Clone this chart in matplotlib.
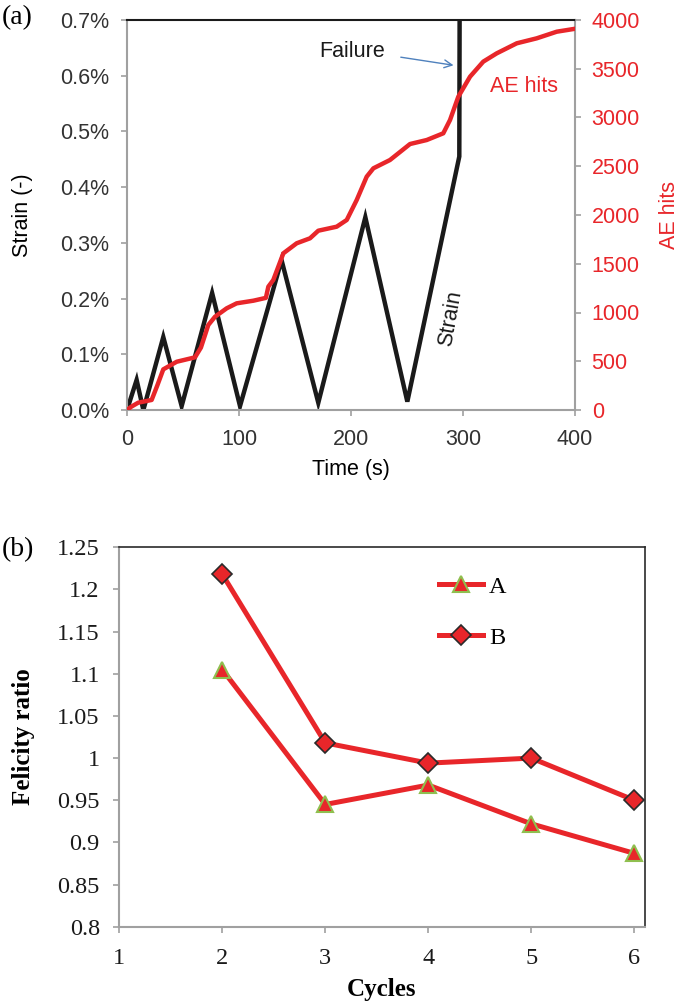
import numpy as np
import matplotlib
matplotlib.use('Agg')
import matplotlib.pyplot as plt

# (a) strain and AE hits vs time
t_strain = [0, 8.6, 14.6, 32.4, 48.8, 76.0, 100.9, 138.0, 170.8, 212.8, 250.3, 296.7, 297.0]
strain = [0, 0.054, 0.0, 0.131, 0.007, 0.210, 0.007, 0.269, 0.013, 0.346, 0.015, 0.455, 0.72]

t_ae = [0, 4, 10, 22, 27, 32.4, 44.4, 60.7, 66, 72.6, 78.6, 89, 97.9, 112.8, 124, 126.2, 130.6,
        139.6, 151.5, 163.4, 170.8, 187.2, 196.2, 205.1, 214, 220, 234.8, 252.7, 267.6, 282.4,
        288.4, 295.8, 306.3, 318.1, 330.1, 348, 365.8, 383.7, 400]
ae_hits = [0, 35, 75, 103, 250, 417, 495, 540, 640, 872, 957, 1043, 1094, 1121, 1150, 1265, 1333,
           1607, 1710, 1761, 1839, 1880, 1949, 2154, 2393, 2479, 2564, 2728, 2769, 2838,
           2974, 3213, 3419, 3573, 3658, 3761, 3812, 3880, 3910]

# (b) felicity ratio vs cycles
cycles = [2, 3, 4, 5, 6]
fr_A = [1.105, 0.945, 0.968, 0.922, 0.887]
fr_B = [1.218, 1.018, 0.994, 1.000, 0.950]

red = '#e8262a'
grey = '#a0a0a0'
dark = '#2a2a2a'
W, H = 685, 1008

fig = plt.figure(figsize=(W / 100, H / 100), dpi=100)

# ---------- panel (a) ----------
sans = 'Liberation Sans'
fs_a = 15.5
ax1 = fig.add_axes([127 / W, 1 - 410 / H, 448 / W, 390 / H])
ax1.plot(t_strain, strain, color='#1a1a1a', lw=3.2, solid_joinstyle='miter', zorder=2)
ax1.set_xlim(0, 400)
ax1.set_ylim(0, 0.7)
ax1.set_xticks(np.arange(0, 401, 100))
ax1.set_yticks(np.arange(0, 0.71, 0.1))
ax1.set_yticklabels(['{:.1f}%'.format(v) for v in np.arange(0, 0.71, 0.1)])
for lab in ax1.get_xticklabels() + ax1.get_yticklabels():
    lab.set_fontfamily(sans)
    lab.set_fontsize(fs_a)
    lab.set_color('#333333')
ax1.tick_params(direction='out', length=4, width=1.2, color=grey)
ax1.tick_params(axis='x', pad=10)
ax1.tick_params(axis='y', pad=9)
for s in ['left', 'bottom', 'right']:
    ax1.spines[s].set_color(grey)
    ax1.spines[s].set_linewidth(1.5)
ax1.spines['top'].set_color('#1a1a1a')
ax1.spines['top'].set_linewidth(1.5)
ax1.set_ylabel('Strain (-)', fontfamily=sans, fontsize=fs_a)
ax1.yaxis.set_label_coords(-0.209, 0.5)
ax1.set_xlabel('Time (s)', fontfamily=sans, fontsize=fs_a)
ax1.xaxis.set_label_coords(0.5, -0.125)

ax1.text(289, 0.165, 'Strain', rotation=80, ha='center', va='center',
         fontfamily=sans, fontsize=fs_a, color='#1a1a1a')
ax1.text(201, 0.643, 'Failure', ha='center', va='center', fontfamily=sans,
         fontsize=fs_a, color='#1a1a1a')
ax1.annotate('', xy=(294, 0.618), xytext=(242, 0.634),
             arrowprops=dict(arrowstyle='->', color='#4f81bd', lw=1.0,
                             mutation_scale=14))

ax2 = ax1.twinx()
ax2.plot(t_ae, ae_hits, color=red, lw=3.2, zorder=3)
ax2.set_ylim(0, 4000)
ax2.set_yticks(np.arange(0, 4001, 500))
for lab in ax2.get_yticklabels():
    lab.set_fontfamily(sans)
    lab.set_fontsize(fs_a)
    lab.set_color(red)
ax2.tick_params(direction='out', length=4, width=1.2, color=grey, pad=8)
for s in ax2.spines.values():
    s.set_visible(False)
ax2.set_ylabel('AE hits', fontfamily=sans, fontsize=fs_a, color=red)
ax2.yaxis.set_label_coords(1.187, 0.5)
ax2.text(354.5, 3313, 'AE hits', ha='center', va='center', fontfamily=sans,
         fontsize=fs_a, color=red)

fig.text(17 / W, 1 - 18 / H, '(a)', ha='center', va='center',
         fontfamily='Liberation Serif', fontsize=20)

# ---------- panel (b) ----------
serif = 'Liberation Serif'
fs_b = 17.5
ax3 = fig.add_axes([119.3 / W, 1 - 926.7 / H, 525.3 / W, 379.4 / H])
ax3.plot(cycles, fr_A, color=red, lw=3.6, marker='^', markersize=12,
         markerfacecolor=red, markeredgecolor='#8fbf4f', markeredgewidth=1.5, label='A')
ax3.plot(cycles, fr_B, color=red, lw=3.6, marker='D', markersize=10,
         markerfacecolor=red, markeredgecolor=dark, markeredgewidth=1.2, label='B')
ax3.set_xlim(1, 6.1)
ax3.set_ylim(0.8, 1.25)
ax3.set_xticks([1, 2, 3, 4, 5, 6])
yt = np.arange(0.8, 1.2501, 0.05)
ax3.set_yticks(yt)
ax3.set_yticklabels(['{:g}'.format(round(v, 2)) for v in yt])
for lab in ax3.get_xticklabels() + ax3.get_yticklabels():
    lab.set_fontfamily(serif)
    lab.set_fontsize(fs_b)
    lab.set_color('#1a1a1a')
ax3.tick_params(direction='out', length=4, width=1.2, color=grey)
ax3.tick_params(axis='x', pad=11)
ax3.tick_params(axis='y', pad=10)
for s in ['left', 'bottom']:
    ax3.spines[s].set_color(grey)
    ax3.spines[s].set_linewidth(1.5)
for s in ['top', 'right']:
    ax3.spines[s].set_color(dark)
    ax3.spines[s].set_linewidth(1.2)
ax3.set_ylabel('Felicity ratio', fontfamily=serif, fontsize=18, fontweight='bold')
ax3.yaxis.set_label_coords(-0.16, 0.5)
ax3.set_xlabel('Cycles', fontfamily=serif, fontsize=18, fontweight='bold')
ax3.xaxis.set_label_coords(0.5, -0.135)

leg = ax3.legend(loc='upper left', bbox_to_anchor=(0.609, 0.925), frameon=False,
                 borderpad=0, borderaxespad=0, handlelength=1.8, handletextpad=0.25,
                 labelspacing=1.2, numpoints=1, prop={'family': serif, 'size': fs_b})

fig.text(18 / W, 1 - 550 / H, '(b)', ha='center', va='center',
         fontfamily=serif, fontsize=20)

fig.savefig('out.png', dpi=100)
